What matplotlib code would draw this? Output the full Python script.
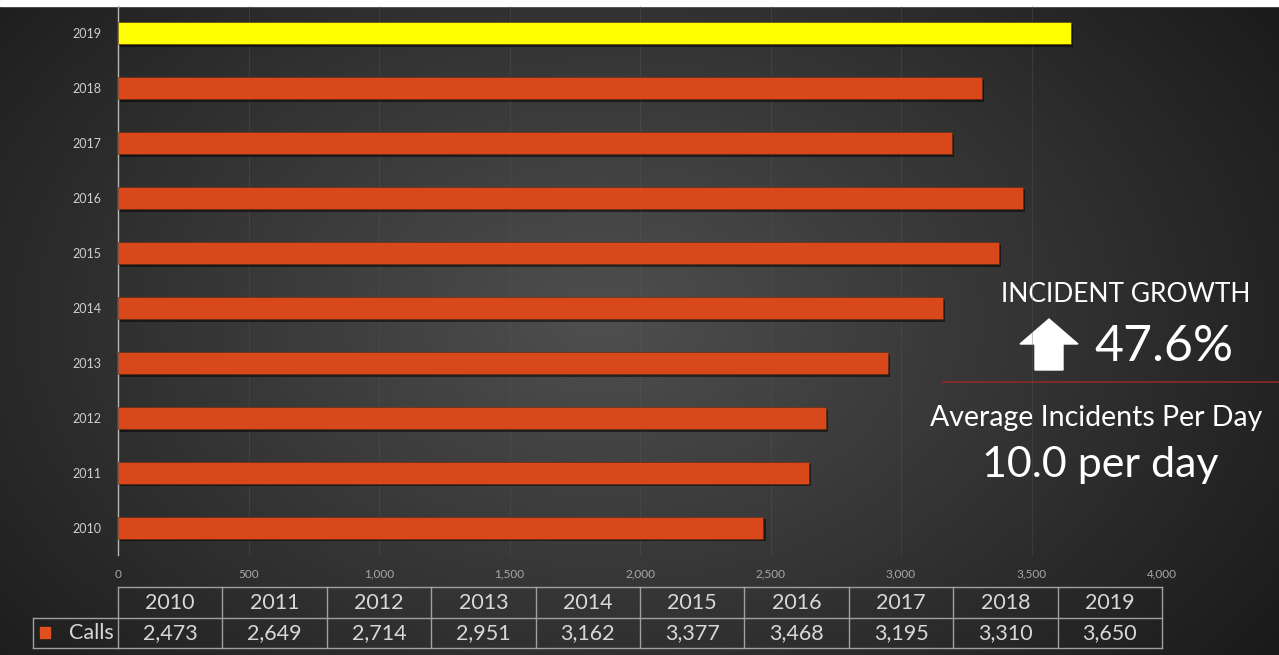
import numpy as np
import matplotlib
matplotlib.use("Agg")
import matplotlib.pyplot as plt
import matplotlib.patheffects as pe
from matplotlib.patches import Polygon, Rectangle

years = ["2010", "2011", "2012", "2013", "2014", "2015", "2016", "2017", "2018", "2019"]
calls = [2473, 2649, 2714, 2951, 3162, 3377, 3468, 3195, 3310, 3650]
x_ticks = [0, 500, 1000, 1500, 2000, 2500, 3000, 3500, 4000]
growth_label = "47.6%"
per_day_label = "10.0 per day"

W, H = 1279, 655
fig = plt.figure(figsize=(W / 100, H / 100), dpi=100)

# background: dark radial gradient over the whole figure, pixel coordinates
bg = fig.add_axes([0, 0, 1, 1], zorder=0)
yy, xx = np.mgrid[0:H, 0:W]
r = np.sqrt(((xx - 600) / 760.0) ** 2 + ((yy - 320) / 520.0) ** 2)
shade = np.clip(0.31 - 0.19 * r, 0.10, 0.31)
img = np.dstack([shade, shade, shade])
bg.imshow(img, extent=(0, W, H, 0), aspect="auto")
bg.add_patch(Rectangle((0, 0), W, 6, color="white", zorder=2))
bg.set_xlim(0, W)
bg.set_ylim(H, 0)
bg.axis("off")

# main bar chart
def px(x0, y0, x1, y1):
    return [x0 / W, 1 - y1 / H, (x1 - x0) / W, (y1 - y0) / H]

ax = fig.add_axes(px(118, 6, 1162, 555), zorder=2)
ax.set_facecolor("none")
ypos = np.arange(len(years))
colors = ["#D9481A"] * (len(years) - 1) + ["#FFFF00"]
bars = ax.barh(ypos, calls, height=0.4, color=colors, edgecolor="#5a2a10", linewidth=0.4, zorder=3)
for b in bars:
    b.set_path_effects([pe.SimplePatchShadow(offset=(1.5, -2), shadow_rgbFace="black", alpha=0.5), pe.Normal()])

ax.set_xlim(0, 4000)
ax.set_ylim(-0.5, len(years) - 0.5)
ax.set_yticks(ypos)
ax.set_yticklabels(years, fontsize=9, color="#cfcfcf", family="Lato")
ax.set_xticks(x_ticks)
ax.set_xticklabels([f"{v:,}" for v in x_ticks], fontsize=8.5, color="#a8a8a8", family="Lato")
ax.tick_params(axis="y", length=0, pad=12)
ax.tick_params(axis="x", length=0, pad=10)
ax.grid(axis="x", color="#5a5a5a", linewidth=0.7, alpha=0.35, zorder=0)
for side in ["top", "right", "bottom"]:
    ax.spines[side].set_visible(False)
ax.spines["left"].set_color("#b8b8b8")
ax.spines["left"].set_linewidth(1.0)

# data table under the axis
tab = fig.add_axes(px(118, 587, 1162, 648), zorder=2)
tab.set_xlim(0, len(years))
tab.set_ylim(2, 0)
tab.axis("off")
line_kw = dict(color="#a0a0a0", linewidth=1.0, clip_on=False)
for yl in [0, 1, 2]:
    tab.plot([0, len(years)], [yl, yl], **line_kw)
for xl in range(len(years) + 1):
    tab.plot([xl, xl], [0, 2], **line_kw)
lx = -85 / 104.4
tab.plot([lx, 0], [1, 1], **line_kw)
tab.plot([lx, 0], [2, 2], **line_kw)
tab.plot([lx, lx], [1, 2], **line_kw)
for i, (yr, v) in enumerate(zip(years, calls)):
    tab.text(i + 0.5, 0.52, yr, ha="center", va="center", fontsize=15.5, color="#d8d8d8", family="Lato")
    tab.text(i + 0.5, 1.52, f"{v:,}", ha="center", va="center", fontsize=15.5, color="#d8d8d8", family="Lato")
tab.add_patch(Rectangle((lx + 0.07, 1.3), 0.095, 0.38, color="#E0501E", clip_on=False))
tab.text(-0.04, 1.52, "Calls", ha="right", va="center", fontsize=15.5, color="#d8d8d8", family="Lato")

# right-hand summary panel
bg.text(1126, 295, "INCIDENT GROWTH", ha="center", va="center", fontsize=19, color="white", family="Lato", zorder=3)
bg.add_patch(Polygon([(1049, 319), (1078, 344), (1063, 344), (1063, 370),
                      (1035, 370), (1035, 344), (1020, 344)], closed=True, color="white", zorder=3))
bg.text(1094, 347, growth_label, ha="left", va="center", fontsize=36, color="white", family="Lato", zorder=3)
bg.plot([943, W], [382, 382], color="#8a2a2a", linewidth=1.2, zorder=3)
bg.text(1096, 418, "Average Incidents Per Day", ha="center", va="center", fontsize=20.5, color="white", family="Lato", zorder=3)
bg.text(1100, 465, per_day_label, ha="center", va="center", fontsize=31, color="white", family="Lato", zorder=3)

fig.savefig("out.png", dpi=100)
